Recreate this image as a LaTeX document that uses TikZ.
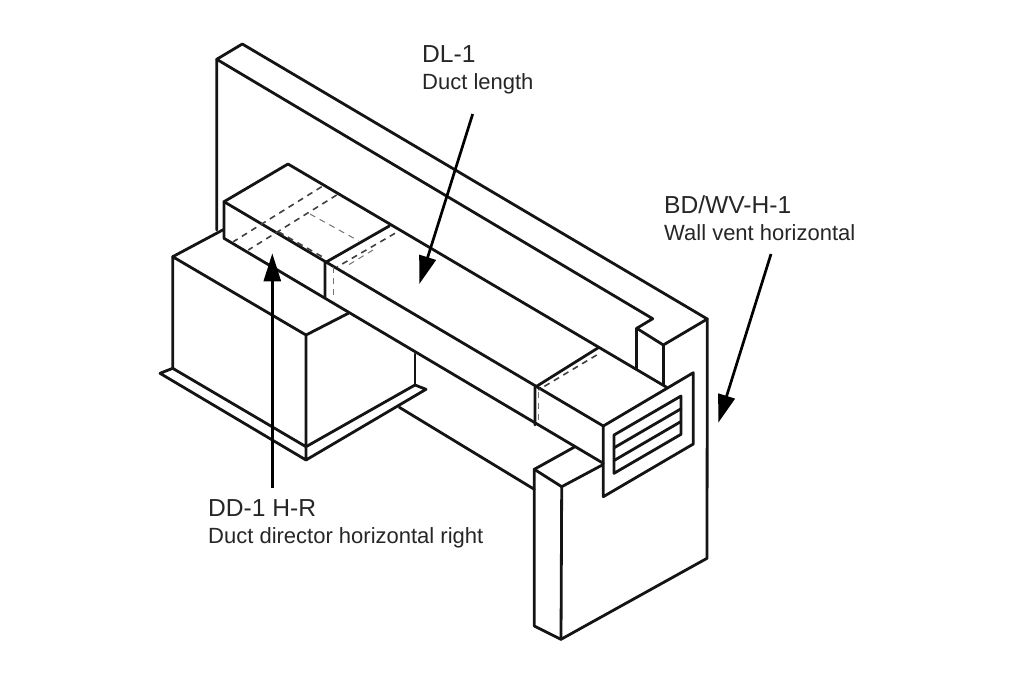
\documentclass[tikz,border=0pt]{standalone}
\usepackage{fontspec}
\setmainfont{Liberation Sans}
\usetikzlibrary{arrows.meta}
\tikzset{
	outline/.style={line width=2.8pt,line join=round,line cap=round,color=black!92},
	hidden/.style={line width=1.6pt,dash pattern=on 6pt off 5pt,color=black!75},
	faint/.style={line width=1pt,dash pattern=on 6pt off 5pt,color=black!55},
	pointer/.style={line width=2.7pt,-{Triangle[length=28pt,width=17pt]}},
	caption/.style={anchor=north west,inner sep=0pt,align=left,text=black!85,font=\fontsize{22}{27}\selectfont}
}
\newcommand{\bigtag}[1]{{\fontsize{24.6}{27}\selectfont #1}}
\begin{document}
\begin{tikzpicture}[x=1pt,y=-1pt]
	\useasboundingbox (0,0) rectangle (1024,681);
	\draw[outline] (216.7,230) -- (216.7,59.3) -- (242.3,44) -- (707.3,319) -- (707,558.3) -- (561,639.3) -- (534.3,626) -- (534.3,469.3) -- (575,446.7);
	\draw[outline] (216.7,59.3) -- (652.7,318.7) -- (636.7,328.3) -- (663.3,345) -- (707.3,319);
	\draw[outline] (636.7,328.3) -- (636.7,368.3);
	\draw[outline] (663.3,345) -- (663.3,385);
	\draw[outline] (534.3,469.3) -- (561.7,486.7) -- (602.3,465);
	\draw[outline] (561.7,486.7) -- (561,639.3);
	\draw[outline] (224,238.3) -- (224,201.7) -- (288,164) -- (666.7,387.3);
	\draw[outline] (224,201.7) -- (603.3,426);
	\draw[outline] (224,238.3) -- (603.3,463.3);
	\draw[outline] (325,296.7) -- (325,262.7) -- (389.3,226);
	\draw[outline] (535,425) -- (535,387.3) -- (598.3,347.7);
	\draw[outline] (172.7,256.7) -- (224,229.3);
	\draw[outline] (348.3,313.3) -- (306,335) -- (172.7,256.7) -- (172.7,368.3) -- (306,446.7) -- (306,335);
	\draw[outline] (172.7,368.3) -- (160,373.3) -- (306,460) -- (426,389.3) -- (415,385) -- (306,446.7) -- (306,460);
	\draw[outline] (415,354) -- (415,385);
	\draw[outline] (399.3,407.3) -- (534.3,489.3);
	\draw[outline] (603.3,426) -- (693.3,372.7) -- (693.3,444) -- (603.3,496.7) -- cycle;
	\draw[outline] (614,435) -- (681,396) -- (681,434.3) -- (614,473.3) -- cycle;
	\foreach \Y in {12.8,25.5}
	{\draw[outline] (614,435+\Y) -- (681,396+\Y);}
	\foreach \A/\B/\C/\D in {321.7/186.7/233.3/241.7, 336.7/195/248.3/250, 278.3/231.7/325/258.3, 395/233.3/337/267, 596.7/355/538.3/390}
	{\draw[hidden] (\A,\B) -- (\C,\D);}
	\foreach \A/\B/\C/\D in {310/214/358.3/240.7, 373/250/345/267, 333.3/267/333.3/300, 538.3/392/538.3/423}
	{\draw[faint] (\A,\B) -- (\C,\D);}
	\node[caption] (dltag) at (422,45.5) {\bigtag{DL-1}\\Duct length};
	\node[caption] (bdtag) at (664,195) {\bigtag{BD/WV-H-1}\\Wall vent horizontal};
	\node[caption] (ddtag) at (208,499.5) {\bigtag{DD-1 H-R}\\Duct director horizontal right};
	\coordinate (dlfrom) at (472.7,114);
	\coordinate (dlto) at (419.3,284);
	\coordinate (bdfrom) at (771,254);
	\coordinate (bdto) at (718.3,422.7);
	\coordinate (ddfrom) at (272.3,488);
	\coordinate (ddto) at (272.3,253.3);
	\draw[pointer] (dlfrom) -- (dlto);
	\draw[pointer] (bdfrom) -- (bdto);
	\draw[pointer] (ddfrom) -- (ddto);
\end{tikzpicture}
\end{document}
